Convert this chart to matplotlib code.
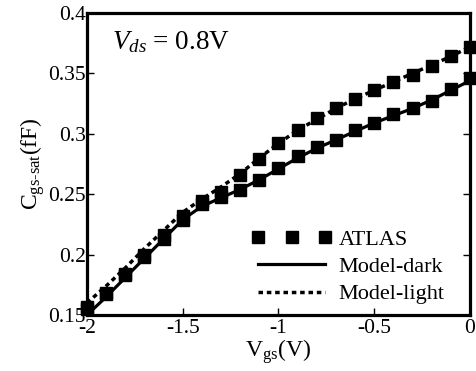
import matplotlib
matplotlib.use("Agg")
import matplotlib.pyplot as plt
import numpy as np

plt.rcParams["font.family"] = ["Liberation Serif", "DejaVu Serif"]
plt.rcParams["mathtext.fontset"] = "custom"
plt.rcParams["mathtext.rm"] = "Liberation Serif"
plt.rcParams["mathtext.it"] = "Liberation Serif:italic"

# gate voltage sweep (V)
vgs = [-2.0, -1.9, -1.8, -1.7, -1.6, -1.5, -1.4, -1.3, -1.2, -1.1, -1.0,
       -0.9, -0.8, -0.7, -0.6, -0.5, -0.4, -0.3, -0.2, -0.1, 0.0]

# ATLAS simulation points (fF)
atlas_dark = [0.155, 0.167, 0.183, 0.198, 0.213, 0.229, 0.242, 0.248, 0.2535, 0.262, 0.272,
              0.282, 0.289, 0.295, 0.303, 0.309, 0.316, 0.321, 0.327, 0.337, 0.346]
atlas_light = [0.157, 0.168, 0.184, 0.200, 0.216, 0.232, 0.244, 0.252, 0.266, 0.279, 0.292,
               0.303, 0.313, 0.321, 0.329, 0.336, 0.343, 0.349, 0.356, 0.364, 0.372]

# compact model curves (fF)
model_dark = [0.150, 0.165, 0.181, 0.197, 0.213, 0.229, 0.240, 0.247, 0.254, 0.262, 0.271,
              0.280, 0.288, 0.295, 0.302, 0.309, 0.315, 0.321, 0.328, 0.336, 0.344]
model_light = [0.160, 0.174, 0.189, 0.205, 0.220, 0.235, 0.246, 0.256, 0.267, 0.280, 0.292,
               0.303, 0.312, 0.321, 0.329, 0.336, 0.343, 0.350, 0.357, 0.364, 0.372]

xticks = [-2, -1.5, -1, -0.5, 0]
xticklabels = ["-2", "-1.5", "-1", "-0.5", "0"]
yticks = [0.15, 0.2, 0.25, 0.3, 0.35, 0.4]
yticklabels = ["0.15", "0.2", "0.25", "0.3", "0.35", "0.4"]

fig = plt.figure(figsize=(4.77, 3.71), dpi=100)
ax = fig.add_axes([0.1824, 0.1509, 0.8029, 0.8141])

ax.plot(vgs, model_dark, color="black", lw=2.3, label="Model-dark", zorder=2)
ax.plot(vgs, model_light, color="black", lw=2.5, linestyle=(0, (1.3, 1.1)),
        label="Model-light", zorder=2)
ax.plot(vgs, atlas_dark, "s", color="black", ms=8.5, label="ATLAS", zorder=3, clip_on=False)
ax.plot(vgs, atlas_light, "s", color="black", ms=8.5, zorder=3, clip_on=False)

ax.set_xlim(-2, 0)
ax.set_ylim(0.15, 0.4)
ax.set_xticks(xticks)
ax.set_xticklabels(xticklabels)
ax.set_yticks(yticks)
ax.set_yticklabels(yticklabels)
ax.tick_params(direction="in", length=5, width=1, labelsize=15.5, pad=1,
               top=False, right=True)
ax.tick_params(axis="x", pad=3)
for s in ax.spines.values():
    s.set_linewidth(2.3)

ax.set_xlabel(r"V$_{\mathrm{gs}}$(V)", fontsize=17, labelpad=-1)
ax.set_ylabel(r"C$_{\mathrm{gs\text{-}sat}}$(fF)", fontsize=17, labelpad=1)

ax.text(0.065, 0.88, r"$V_{ds}$ = 0.8V", transform=ax.transAxes, fontsize=19.5)

h, l = ax.get_legend_handles_labels()
order = [2, 0, 1]
ax.legend([h[i] for i in order], [l[i] for i in order], loc="lower left",
          bbox_to_anchor=(0.43, 0.035), frameon=False, fontsize=16, numpoints=3,
          handlelength=3.6, handletextpad=0.3, labelspacing=0.3,
          borderaxespad=0, borderpad=0)

fig.savefig("out.png", dpi=100)
